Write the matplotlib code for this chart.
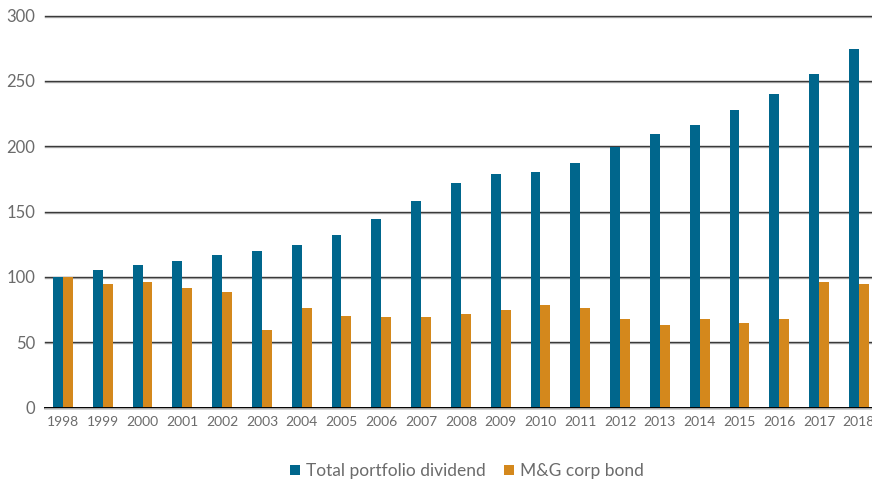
import numpy as np
import matplotlib.pyplot as plt

years = [str(y) for y in range(1998, 2019)]
dividend = [100, 105, 109, 112, 117, 120, 124, 132, 144, 158, 172, 179, 180,
            187, 199, 209, 216, 228, 240, 255, 274]
corp_bond = [100, 94.5, 96, 91.5, 88.5, 59.5, 76, 70, 69.5, 69.5, 71.5, 75, 78.5,
             76, 68, 63, 68, 65, 68, 96, 94.5]

teal = '#00668c'
orange = '#d4881c'
grey = '#6b6b6b'

plt.rcParams['font.family'] = ['Lato', 'DejaVu Sans']

fig = plt.figure(figsize=(8.72, 4.83), dpi=100)
ax = fig.add_axes([45 / 872, 75.5 / 483, 827 / 872, 392 / 483])

x = np.arange(len(years))
w = 0.25
ax.bar(x - w / 2, dividend, w, color=teal, label='Total portfolio dividend', zorder=3)
ax.bar(x + w / 2, corp_bond, w, color=orange, label='M&G corp bond', zorder=3)

ax.set_xlim(-0.45, len(years) - 1 + 0.33)
ax.set_ylim(0, 300)

# gridlines: dark line with a lighter shadow
for v in range(50, 301, 50):
    ax.axhline(v, color='#3a3a3a', lw=1.0, zorder=1, clip_on=False)
    ax.axhline(v - 0.9, color='#b5b5b5', lw=1.0, zorder=0, clip_on=False)
ax.axhline(0, color='black', lw=1.4, zorder=4, clip_on=False)
ax.axhline(-1.2, color='#c8c8c8', lw=1.2, zorder=4, clip_on=False)

for s in ax.spines.values():
    s.set_visible(False)

ax.set_xticks(x)
ax.set_xticklabels(years)
ax.set_yticks(range(0, 301, 50))
ax.tick_params(length=0, colors=grey)
ax.tick_params(axis='x', labelsize=10, pad=6)
ax.tick_params(axis='y', labelsize=12, pad=7)

leg = fig.legend(loc='center', bbox_to_anchor=(467 / 872, 1 - 471 / 483), ncol=2,
                 frameon=False, handlelength=0.55, handleheight=0.55,
                 handletextpad=0.35, columnspacing=1.1, fontsize=12.5)
for t in leg.get_texts():
    t.set_color(grey)

fig.savefig('out.png', dpi=100)
